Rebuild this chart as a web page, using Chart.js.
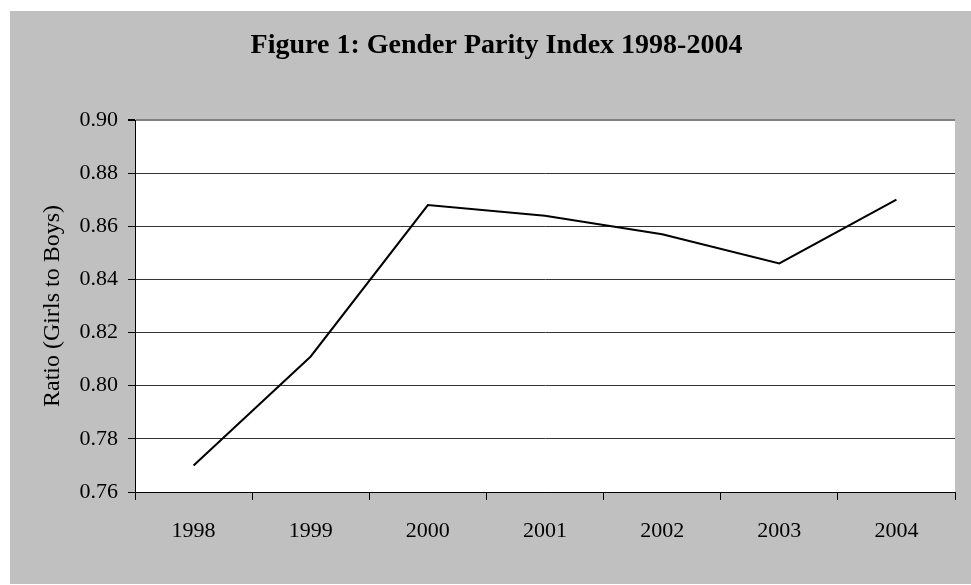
<!DOCTYPE html>
<html>
<head>
<meta charset="utf-8">
<script src="https://cdn.jsdelivr.net/npm/chart.js@4"></script>
<style>
  html, body { margin: 0; padding: 0; background: #ffffff; }
  #wrap { position: absolute; left: 10px; top: 11px; width: 961px; height: 573px; background: #c0c0c0; }
</style>
</head>
<body>
<div id="wrap"><canvas id="gpiChart" width="961" height="573"></canvas></div>
<script>
  // Data
  const years = ['1998', '1999', '2000', '2001', '2002', '2003', '2004'];
  const parityIndex = [0.770, 0.811, 0.868, 0.864, 0.857, 0.846, 0.870];
  const yTicks = [0.76, 0.78, 0.80, 0.82, 0.84, 0.86, 0.88, 0.90];

  const serif = '"Liberation Serif", "Times New Roman", serif';

  // White plot area on the grey chart background
  const plotBackground = {
    id: 'plotBackground',
    beforeDraw(chart) {
      const { ctx, chartArea } = chart;
      ctx.save();
      ctx.fillStyle = '#ffffff';
      ctx.fillRect(chartArea.left, chartArea.top, chartArea.right - chartArea.left, chartArea.bottom - chartArea.top);
      ctx.restore();
    }
  };

  new Chart(document.getElementById('gpiChart'), {
    type: 'line',
    data: {
      labels: years,
      datasets: [{
        label: 'Gender Parity Index',
        data: parityIndex,
        borderColor: '#000000',
        borderWidth: 2,
        pointRadius: 0,
        tension: 0,
        fill: false
      }]
    },
    options: {
      responsive: false,
      animation: false,
      layout: { padding: { left: 28, right: 16, top: 0, bottom: 0 } },
      plugins: {
        legend: { display: false },
        tooltip: { enabled: false },
        title: {
          display: true,
          text: 'Figure 1: Gender Parity Index 1998-2004',
          color: '#000000',
          font: { family: serif, size: 28, weight: 'bold' },
          padding: { top: 18, bottom: 57.4 }
        }
      },
      scales: {
        x: {
          offset: true,
          grid: {
            offset: true,
            drawOnChartArea: true,
            color: ctx => ctx.index === years.length ? '#808080' : 'rgba(0,0,0,0)',
            tickColor: ctx => ctx.index === years.length ? '#808080' : '#000000',
            lineWidth: ctx => ctx.index === years.length ? 2 : 1,
            tickLength: 8
          },
          border: { color: '#000000', width: 1 },
          ticks: {
            color: '#000000',
            font: { family: serif, size: 22 },
            padding: 18,
            maxRotation: 0
          },
          afterFit(scale) { scale.height = 92; }
        },
        y: {
          min: 0.76,
          max: 0.90,
          afterBuildTicks(scale) { scale.ticks = yTicks.map(v => ({ value: v })); },
          grid: {
            color: ctx => ctx.tick && ctx.tick.value === 0.90 ? '#808080' : '#333333',
            lineWidth: ctx => ctx.tick && ctx.tick.value === 0.90 ? 2 : 1,
            tickColor: '#000000',
            tickLength: 7
          },
          border: { color: '#000000', width: 1 },
          ticks: {
            color: '#000000',
            font: { family: serif, size: 22 },
            padding: 10,
            callback: v => Number(v).toFixed(2)
          },
          title: {
            display: true,
            text: 'Ratio (Girls to Boys)',
            color: '#000000',
            font: { family: serif, size: 24 },
            padding: 0
          },
          afterFit(scale) { scale.width = 97; }
        }
      }
    },
    plugins: [plotBackground]
  });
</script>
</body>
</html>
